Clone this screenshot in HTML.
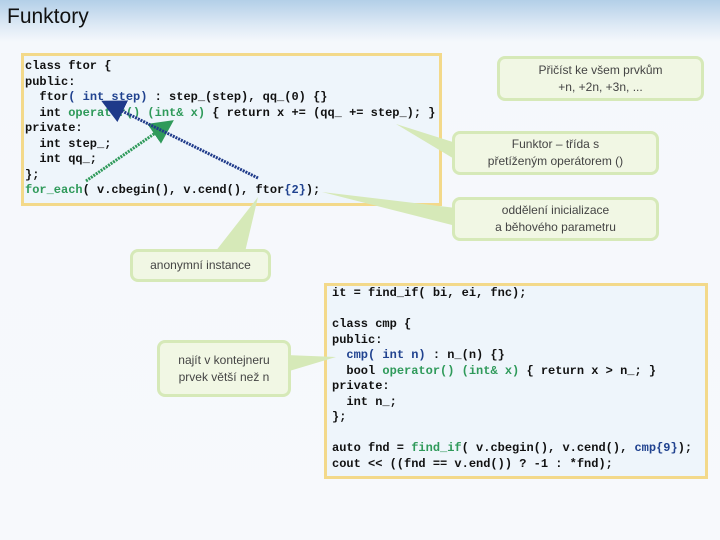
<!DOCTYPE html>
<html><head><meta charset="utf-8"><style>
body{margin:0;width:720px;height:540px;overflow:hidden;position:relative;font-family:"Liberation Sans",sans-serif;
background:linear-gradient(#b3cfe8 0px,#dde9f5 25px,#f5f8fc 42px,#f7f9fc 540px);}
.t{position:absolute;left:7px;top:5px;font-size:21px;color:#111;}
.code{position:absolute;background:#eef5fb;border:3px solid #f3d98a;box-sizing:border-box;}
pre{margin:0;font-family:"Liberation Mono",monospace;font-size:12px;line-height:15.5px;color:#111;font-weight:bold;position:absolute;}
.b{color:#20428f}.g{color:#2f9a5a}
.c{position:absolute;background:#f1f7e4;border:3px solid #d6e9b8;border-radius:8px;box-sizing:border-box;
font-size:12px;color:#444;text-align:center;line-height:17px;display:flex;align-items:center;justify-content:center;}
svg{position:absolute;left:0;top:0}
</style></head><body>
<div class="t">Funktory</div>
<div class="code" style="left:21px;top:53px;width:421px;height:153px"></div>
<pre style="left:25px;top:59px">class ftor {
public:
  ftor<span class="b">( int step)</span> : step_(step), qq_(0) {}
  int <span class="g">operator() (int&amp; x)</span> { return x += (qq_ += step_); }
private:
  int step_;
  int qq_;
};
<span class="g">for_each</span>( v.cbegin(), v.cend(), ftor<span class="b">{2}</span>);</pre>
<div class="code" style="left:324px;top:283px;width:384px;height:196px"></div>
<pre style="left:332px;top:286px">it = find_if( bi, ei, fnc);

class cmp {
public:
  <span class="b">cmp( int n)</span> : n_(n) {}
  bool <span class="g">operator() (int&amp; x)</span> { return x &gt; n_; }
private:
  int n_;
};

auto fnd = <span class="g">find_if</span>( v.cbegin(), v.cend(), <span class="b">cmp{9}</span>);
cout &lt;&lt; ((fnd == v.end()) ? -1 : *fnd);</pre>
<svg width="720" height="540">
<g fill="#d6e9b8" stroke="none">
<polygon points="456,143 396,124 456,160"/>
<polygon points="456,208 322,192 456,226"/>
<polygon points="215,252 258,197 245,252"/>
<polygon points="286,355 336,357 286,372"/>
</g>
<defs>
<marker id="ag" markerWidth="8" markerHeight="8" refX="4" refY="4" orient="auto"><path d="M0,0 L8,4 L0,8z" fill="#2f9a5a"/></marker>
<marker id="ab" markerWidth="8" markerHeight="8" refX="4" refY="4" orient="auto"><path d="M0,0 L8,4 L0,8z" fill="#1f3a8a"/></marker>
</defs>
<line x1="86" y1="181" x2="164" y2="127" stroke="#2f9a5a" stroke-width="3" stroke-dasharray="2,1" marker-end="url(#ag)"/>
<line x1="258" y1="178" x2="112" y2="106" stroke="#1f3a8a" stroke-width="3" stroke-dasharray="2,1" marker-end="url(#ab)"/>
</svg>
<div class="c" style="left:497px;top:56px;width:207px;height:45px">Přičíst ke všem prvkům<br>+n, +2n, +3n, ...</div>
<div class="c" style="left:452px;top:131px;width:207px;height:44px">Funktor – třída s<br>přetíženým operátorem ()</div>
<div class="c" style="left:452px;top:197px;width:207px;height:44px">oddělení inicializace<br>a běhového parametru</div>
<div class="c" style="left:130px;top:249px;width:141px;height:33px">anonymní instance</div>
<div class="c" style="left:157px;top:340px;width:134px;height:57px">najít v kontejneru<br>prvek větší než n</div>
</body></html>
